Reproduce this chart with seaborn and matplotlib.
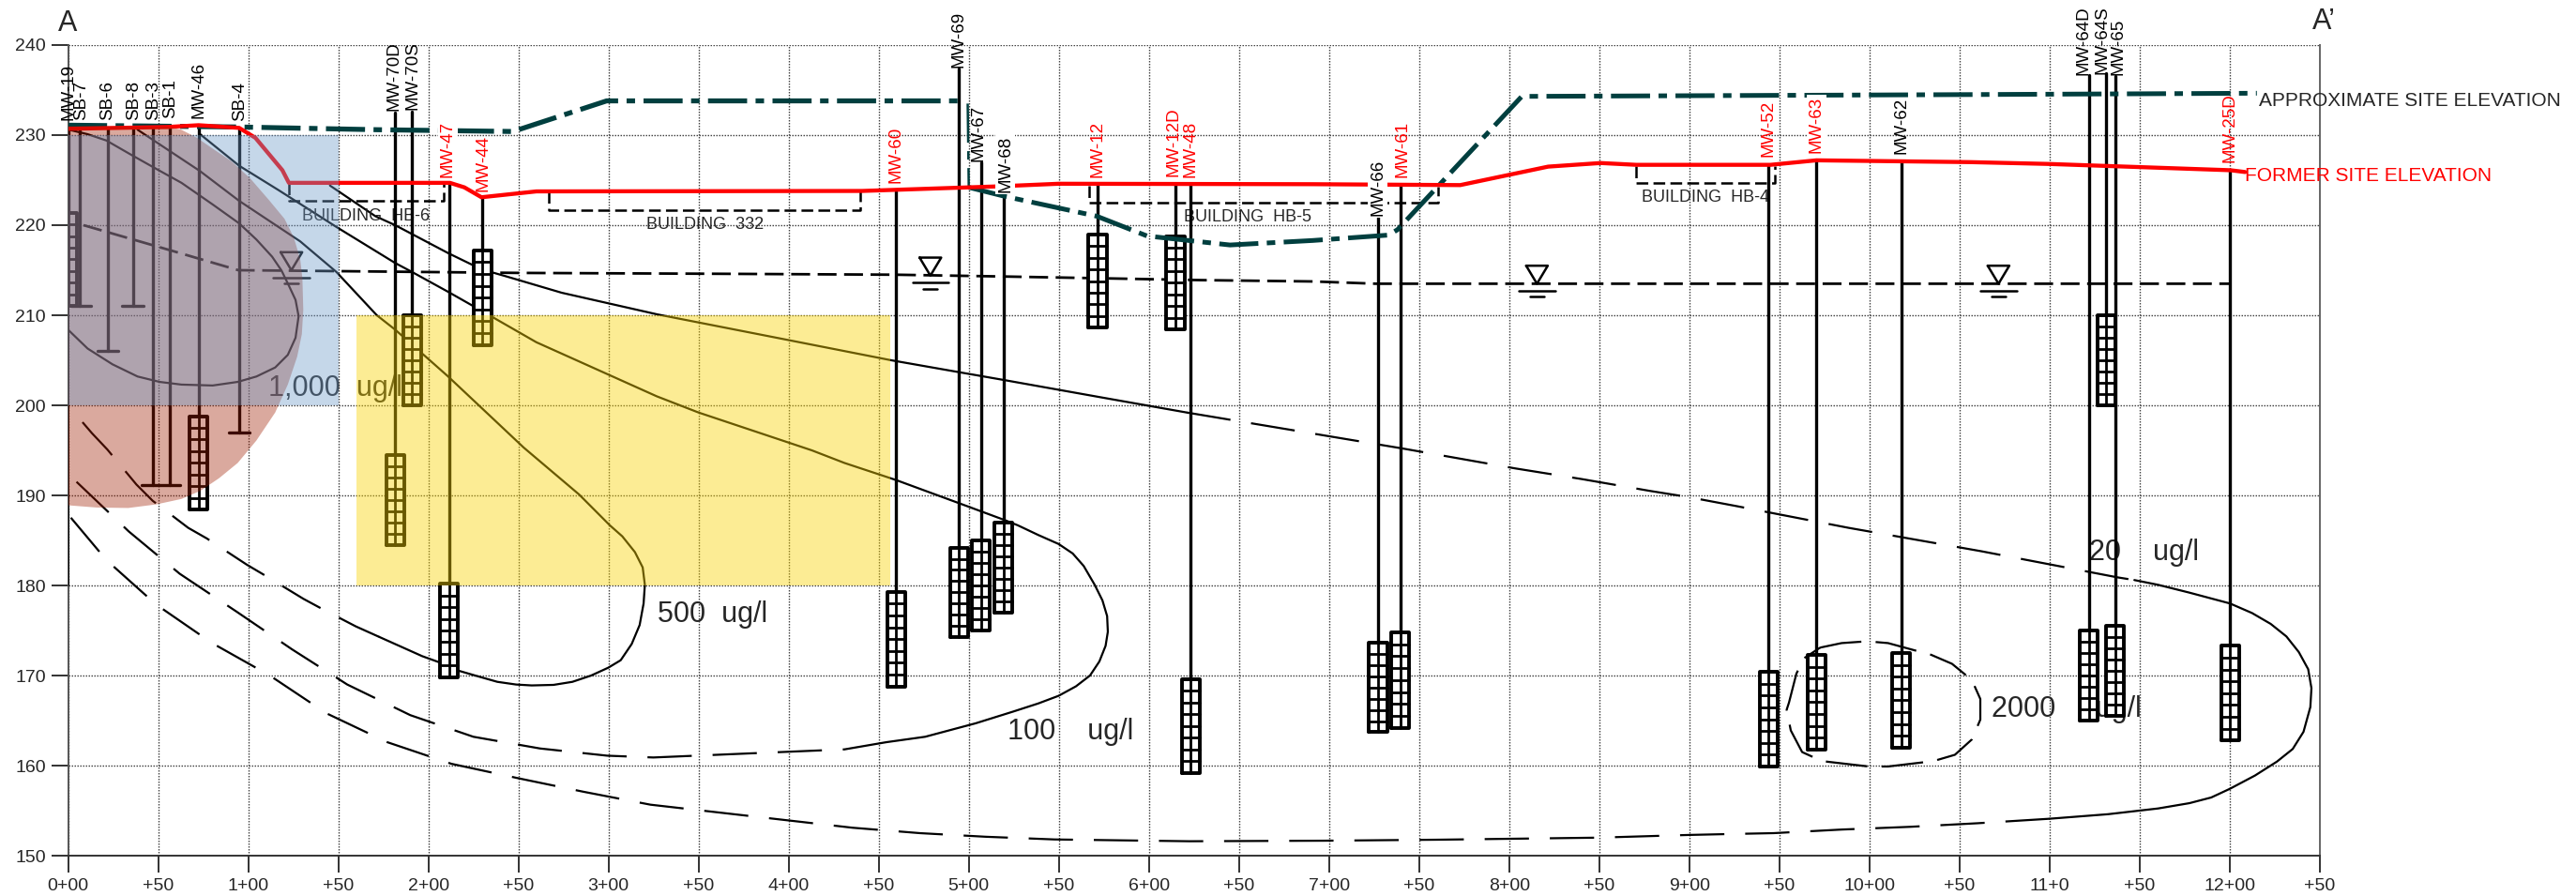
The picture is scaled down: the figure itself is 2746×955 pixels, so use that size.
import numpy as np
import pandas as pd
import matplotlib
matplotlib.use('Agg')
import matplotlib.pyplot as plt
import seaborn as sns

# stations in feet, elevations in feet
x_ticks = list(range(0, 1251, 50))
x_labels = ['0+00', '+50', '1+00', '+50', '2+00', '+50', '3+00', '+50', '4+00', '+50', '5+00', '+50', '6+00',
            '+50', '7+00', '+50', '8+00', '+50', '9+00', '+50', '10+00', '+50', '11+0', '+50', '12+00', '+50']
y_ticks = list(range(150, 241, 10))

# wells
well_names = ['MW-19', 'SB-7', 'SB-6', 'SB-8', 'SB-3', 'SB-1', 'MW-46', 'SB-4', 'MW-70D', 'MW-70S', 'MW-47', 'MW-44',
              'MW-60', 'MW-69', 'MW-67', 'MW-68', 'MW-12', 'MW-12D', 'MW-48', 'MW-66', 'MW-61', 'MW-52', 'MW-63',
              'MW-62', 'MW-64D', 'MW-64S', 'MW-65', 'MW-25D']
well_x = [0, 6.7, 22, 36, 47, 56.5, 72.5, 95, 181.6, 191, 211.6, 230, 459.8, 494.5, 506.8, 519.2, 571.5, 614.7,
          623.2, 727.2, 739.5, 944, 970.5, 1017.6, 1121.8, 1131.5, 1136.4, 1200.2]
well_top = [231, 231, 230.8, 230.8, 230.8, 230.9, 231, 230.8, 232.5, 232.6, 224.6, 223, 223.8, 237.4, 227, 223, 224.5,
            224.5, 224.5, 220.9, 224.5, 226.7, 227.2, 227, 236.7, 236.9, 236.6, 226]
well_bottom = [221.4, 211, 206, 211, 191.1, 191.1, 198.8, 197, 194.5, 210, 180.2, 217.2, 179.3, 184.2, 185, 187,
               219, 218.8, 169.6, 173.6, 174.8, 170.4, 172.3, 172.5, 175, 210, 175.5, 173.3]
screen_top = [221.4, None, None, None, None, None, 198.8, None, 194.5, 210, 180.2, 217.2, 179.3, 184.2, 185, 187,
              219, 218.8, 169.6, 173.6, 174.8, 170.4, 172.3, 172.5, 175, 210, 175.5, 173.3]
screen_bottom = [211, None, None, None, None, None, 188.4, None, 184.5, 200, 169.8, 206.7, 168.8, 174.3, 175, 177,
                 208.6, 208.4, 159.2, 163.7, 164.2, 159.9, 161.8, 162, 165, 200, 165.5, 162.8]
bar_left = [1.6, 16.2, 30.2, 41, 89.2]
bar_right = [12.8, 27.8, 41.8, 62, 100.8]
bar_y = [211, 206, 211, 191.1, 197]

label_x = [0.4, 7.4, 22, 36.5, 47.3, 56.9, 72.8, 95.4, 181, 191.6, 210.7, 230.5, 459.8, 494.2, 505.4, 520.3, 571.5,
           613.5, 623.3, 727, 740.7, 944, 970.5, 1018, 1119, 1129, 1138, 1200]
label_y = [231.7, 231.7, 231.7, 231.7, 231.7, 231.9, 231.9, 231.6, 232.7, 232.8, 225.3, 223.75, 224.7, 237.5, 227.1,
           223.65, 225.3, 225.45, 225.3, 221, 225.3, 227.6, 228, 227.9, 236.7, 236.8, 236.7, 227]
red_labels = ['MW-47', 'MW-44', 'MW-60', 'MW-12', 'MW-12D', 'MW-48', 'MW-61', 'MW-52', 'MW-63', 'MW-25D']
boxed_labels = ['MW-47', 'MW-68', 'MW-66', 'MW-63']

# site surfaces
former_x = [0, 55, 72.5, 95, 104, 119, 122.6, 212, 220, 229.5, 260, 440.8, 515, 550, 691, 772.8, 821.6, 850.7, 870.5,
            945, 970.5, 1056, 1099, 1200.4, 1208.5]
former_y = [230.7, 230.9, 231.1, 230.8, 229.7, 226.1, 224.7, 224.7, 224.2, 223.1, 223.75, 223.8, 224.3, 224.6, 224.55,
            224.45, 226.5, 226.9, 226.7, 226.7, 227.2, 227, 226.8, 226.1, 225.9]
approx_w_x = [0, 95, 171.4, 247, 299, 495.4]
approx_w_y = [231.1, 230.9, 230.6, 230.4, 233.8, 233.8]
approx_drop_x = [499.4, 500]
approx_drop_y = [233.5, 224.2]
approx_e_x = [500, 520, 571, 599, 645, 691, 733, 738, 807, 1056, 1215]
approx_e_y = [224.2, 223.2, 221, 218.8, 217.8, 218.3, 218.9, 219.5, 234.3, 234.5, 234.65]
water_x = [8.6, 57, 94.6, 148, 250, 364, 459.5, 519.8, 629, 691.4, 726, 1200.4]
water_y = [220, 217.2, 215, 214.9, 214.7, 214.6, 214.5, 214.3, 213.9, 213.75, 213.5, 213.5]
wt_x = [124, 478.7, 815.4, 1071.6]
wt_y = [215, 214.4, 213.5, 213.5]

# building outlines
hb6_x = [122.6, 122.6, 208.6, 208.6]
hb6_y = [224.7, 222.7, 222.7, 224.7]
b332_x = [267, 267, 440, 440]
b332_y = [223.75, 221.7, 221.7, 223.8]
hb5_x = [567, 567, 760.5, 760.5]
hb5_y = [224.4, 222.5, 222.5, 224.3]
hb4_x = [870.5, 870.5, 947.7, 947.7]
hb4_y = [226.6, 224.7, 224.7, 226.6]
building_names = ['BUILDING  HB-6', 'BUILDING  332', 'BUILDING  HB-5', 'BUILDING  HB-4']
building_x = [165.6, 353.6, 655, 908.8]
building_y = [221, 220, 220.9, 223.1]

# concentration contours
c1000_x = [0.4, 10.9, 21.3, 35.2, 49, 63, 80.3, 95, 104.6, 113.3, 118.5, 122.8, 126.3, 128, 126.3, 122, 115, 104.6,
           94.2, 80.3, 63, 50.8, 38.6, 24.7, 10.9, 0]
c1000_y = [230.6, 230.1, 229.4, 227.8, 226.25, 224.7, 222.3, 220.2, 218.4, 216.5, 214.97, 213.2, 211.7, 209.9, 207.5,
           205.6, 204.2, 203.2, 202.6, 202.2, 202.3, 202.6, 203.2, 204.55, 206.3, 208.4]
c500_x = [38.6, 73.3, 95, 128.9, 149, 171.4, 181.6, 211, 253, 283.7, 300.8, 307.7, 314.7, 319, 320.2, 319.5, 317.3,
          312.9, 306.8, 299.9, 290.4, 280, 269.5, 257.4, 248.7, 238.3, 226, 217.4, 207, 196.6, 172.6]
c500_y = [230.6, 226, 222.7, 218.2, 214.8, 210, 208.4, 203.2, 195.3, 190.1, 186.67, 185.45, 183.7, 182, 180.07, 178,
          175.6, 173.5, 171.7, 170.87, 170, 169.3, 168.96, 168.9, 169, 169.3, 170, 170.5, 171.4, 172.15, 174.3]
c500_dash_x = [172.6, 159.8, 141, 130.8, 108.6, 99.3, 77.2, 66.7, 47, 38, 21.8, 13.3, 0]
c500_dash_y = [174.3, 175.45, 177.4, 178.5, 181.2, 182.3, 185.2, 186.4, 189.4, 191.2, 195.1, 196.9, 200]
c100_x = [72.7, 95, 116.8, 149, 181.6, 191, 211, 229.5, 260, 326.8, 350, 412.9, 431, 459.7, 499.8, 520.7, 527.3, 538.6,
          549.9, 557.7, 563.8, 569.9, 574.2, 576.8, 577.2, 575.95, 572.5, 567.3, 559.5, 549.9, 538.6, 524.7, 503.9,
          475.8, 454.3]
c100_y = [230.2, 226.6, 223.9, 219.8, 215.8, 214.8, 212.6, 210.5, 207, 201, 199.2, 195, 193.6, 191.7, 188.75, 187.2,
          186.67, 185.6, 184.6, 183.55, 182.16, 180.07, 178.34, 176.6, 174.86, 173.3, 171.56, 170, 168.8, 167.75,
          166.9, 166, 164.7, 163.2, 162.6]
c100_dash_x = [454.3, 431, 324.9, 299.3, 262, 225, 190, 155, 124.4, 93.5, 62, 33.7, 1.6]
c100_dash_y = [162.6, 161.8, 160.9, 161.1, 161.9, 163.2, 165.6, 169, 172.9, 177.1, 181.3, 186, 192.1]
c20_x = [145.4, 170.6, 181.6, 211, 229.5, 243.5, 274, 327, 401, 457, 494, 519.8, 573, 621]
c20_y = [224.4, 221, 220, 216.9, 215.1, 214.3, 212.5, 210.1, 207.2, 205, 203.7, 202.8, 200.9, 199.2]
c20_dash_x = [621, 741, 803.2, 840.6, 878, 899.8, 926.4, 988.3, 1062, 1137.6, 1147]
c20_dash_y = [199.2, 195.2, 193, 191.8, 190.5, 189.8, 188.8, 186.4, 183.8, 180.9, 180.6]
c20_end_x = [1147, 1160.2, 1177.6, 1200.1, 1212.3, 1222.7, 1231.4, 1238.3, 1243.5, 1245.3, 1244.7, 1240.9, 1234.9,
             1226.2, 1214, 1200.1, 1189.7, 1177.6, 1160.2, 1132.3, 1100]
c20_end_y = [180.6, 180.07, 179.2, 178, 176.94, 175.73, 174.34, 172.6, 170.7, 168.6, 166.5, 163.75, 161.84, 160.45,
             158.9, 157.43, 156.46, 155.83, 155.24, 154.6, 154.1]
c20_low_x = [1100, 1060, 1022.3, 984.6, 946.8, 922, 899.8, 849.5, 810.7, 760, 697, 622.3, 585, 547.6, 509.3, 472.9,
             435.5, 323.3, 286, 249.8, 212.8, 177.2, 143.5, 112, 80, 48.8, 21.4, 0]
c20_low_y = [154.1, 153.6, 153.2, 152.9, 152.5, 152.4, 152.3, 152, 151.9, 151.77, 151.66, 151.6, 151.7, 151.8, 152.1,
             152.5, 153.1, 155.66, 157.1, 158.6, 160.2, 162.6, 165.8, 170, 173.6, 177.9, 182.8, 187.9]
c2000_x = [972.6, 984.5, 998.7, 1010.3, 1034.2, 1045.8, 1056.8, 1061.5, 1061.5, 1056.8, 1047.4, 1035.5, 1010.3, 999.6,
           973.6, 962.6, 956.3, 954, 955.3, 959.4, 963.5, 972.6]
c2000_y = [173.1, 173.6, 173.8, 173.6, 172.3, 171.3, 169.5, 167.4, 165.1, 162.9, 161.2, 160.5, 159.9, 159.9, 160.5,
           161.5, 163.9, 166.2, 167, 170.2, 171.9, 173.1]
contour_names = ['1,000  ug/l', '500  ug/l', '100    ug/l', '20    ug/l', '2000     ug/l']
contour_label_x = [111, 327.4, 521.6, 1122, 1068]
contour_label_y = [201.9, 176.8, 163.75, 183.6, 166.2]

# shaded zones
blob_x = [0, 56, 62.9, 71.6, 80.3, 90.7, 101.1, 111.5, 120.2, 125.4, 128.9, 130.1, 130.6, 129.8, 127.2, 122, 115, 104.6,
          94.2, 83.8, 73.4, 62.9, 49, 33.4, 16, 0]
blob_y = [231, 230.94, 230.6, 229.7, 228.5, 227.1, 225.2, 222.8, 220.7, 218.6, 216.2, 214.1, 210.6, 207.9, 205.4, 202.3,
          199.2, 196.1, 193.6, 191.9, 190.5, 189.6, 189, 188.6, 188.65, 188.9]
blue_x = [0, 150]
blue_y = [200, 230]
yellow_x = [160, 456.6]
yellow_y = [180, 210]

sns.set_style('white')
plt.rcParams['font.family'] = ['Liberation Sans', 'DejaVu Sans']
plt.rcParams['lines.scale_dashes'] = False
plt.rcParams['lines.dash_capstyle'] = 'butt'

fig = plt.figure(figsize=(27.46, 9.55), dpi=100)
ax = fig.add_axes([72.5 / 2746, 1 - 912 / 955, 2400.5 / 2746, 864 / 955])

BLACK = '#000000'
RED = '#ff0000'
GREEN = '#003f3f'
long_dash = (0, (34, 16))
med_dash = (0, (14.5, 5.8))
build_dash = (0, (9, 4))
site_dash = (0, (30, 6.5, 6.5, 6.5))


def line(xs, ys, color=BLACK, lw=1.6, ls='-', z=3):
    sns.lineplot(x=xs, y=ys, sort=False, estimator=None, color=color, linewidth=lw, linestyle=ls,
                 zorder=z, ax=ax, legend=False)


# contours
line(c1000_x, c1000_y)
line(c500_x, c500_y)
line(c500_dash_x, c500_dash_y, ls=long_dash)
line(c100_x, c100_y)
line(c100_dash_x, c100_dash_y, ls=long_dash)
line(c20_x, c20_y)
line(c20_dash_x, c20_dash_y, ls=long_dash)
line(c20_end_x, c20_end_y)
line(c20_low_x, c20_low_y, ls=long_dash)
line(c2000_x, c2000_y, ls=(0, (32, 11)))

# water table
line(water_x, water_y, lw=2, ls=med_dash)
for wx, wy in zip(wt_x, wt_y):
    line([wx - 6, wx + 6, wx, wx - 6], [wy + 2, wy + 2, wy, wy + 2], lw=1.8)
    line([wx - 10, wx + 10], [wy - 0.8, wy - 0.8], lw=1.8)
    line([wx - 4, wx + 4], [wy - 1.45, wy - 1.45], lw=1.8)

# buildings
for bx, by in [(hb6_x, hb6_y), (b332_x, b332_y), (hb5_x, hb5_y), (hb4_x, hb4_y)]:
    line(bx, by, lw=1.8, ls=build_dash)
for name, tx, ty in zip(building_names, building_x, building_y):
    ax.text(tx, ty, name, fontsize=13, ha='center', va='center', zorder=3)

# contour labels, screens are drawn on top of them
for name, tx, ty in zip(contour_names, contour_label_x, contour_label_y):
    ax.text(tx, ty, name, fontsize=22, ha='left', va='center', zorder=3)

# wells
well_df = pd.DataFrame({'name': well_names * 2, 'x': well_x * 2, 'y': well_top + well_bottom})
sns.lineplot(data=well_df, x='x', y='y', units='name', estimator=None, sort=False, color=BLACK,
             linewidth=2.4, zorder=4, ax=ax, legend=False)
line([0, 0], [221, 180], lw=1.4, z=4)
for left, right, by in zip(bar_left, bar_right, bar_y):
    line([left, right], [by, by], lw=2.4, z=4)

# screens
for sx, hi, lo in zip(well_x, screen_top, screen_bottom):
    if hi is None:
        continue
    ax.fill_between([sx - 5, sx + 5], lo, hi, color='white', lw=0, zorder=4.2)
    for ry in np.linspace(lo, hi, 9)[1:-1]:
        line([sx - 5, sx + 5], [ry, ry], lw=2, z=4.3)
    line([sx, sx], [lo, hi], lw=2, z=4.3)
    line([sx - 5, sx + 5, sx + 5, sx - 5, sx - 5], [lo, lo, hi, hi, lo], lw=2.8, z=4.4)

# surfaces
line(approx_w_x, approx_w_y, color=GREEN, lw=3.8, ls=site_dash, z=5)
line(approx_drop_x, approx_drop_y, color=GREEN, lw=1.8, ls=site_dash, z=5)
line(approx_e_x, approx_e_y, color=GREEN, lw=3.6, ls=site_dash, z=5)
line(former_x, former_y, color=RED, lw=3.1, z=5.5)

# well labels
for name, tx, ty in zip(well_names, label_x, label_y):
    box = dict(facecolor='white', edgecolor='none', pad=1.5) if name in boxed_labels else None
    ax.text(tx, ty, name, rotation=90, fontsize=13.5, ha='center', va='bottom', clip_on=False, zorder=6,
            color=RED if name in red_labels else BLACK, bbox=box)

# shaded zones go over the lines
ax.fill(blob_x, blob_y, color='#a01e00', alpha=0.38, lw=0, zorder=8)
ax.fill_between(blue_x, blue_y[0], blue_y[1], color='#709bc8', alpha=0.4, lw=0, zorder=9)
ax.fill_between(yellow_x, yellow_y[0], yellow_y[1], color='#fad400', alpha=0.42, lw=0, zorder=9)

ax.text(0, 242.4, 'A', fontsize=22, ha='center', va='center')
ax.text(1246, 242.6, 'A’', fontsize=22, ha='left', va='center')
ax.text(1216, 233.8, 'APPROXIMATE SITE ELEVATION', fontsize=15, ha='left', va='center', clip_on=False, zorder=7)
ax.text(1208.5, 225.5, 'FORMER SITE ELEVATION', fontsize=15, color=RED, ha='left', va='center', clip_on=False, zorder=7)

ax.set_xlim(0, 1250)
ax.set_ylim(150, 240)
ax.set_xticks(x_ticks)
ax.set_xticklabels(x_labels, fontsize=14)
ax.set_yticks(y_ticks)
ax.set_yticklabels([str(v) for v in y_ticks], fontsize=14)
ax.set(xlabel='', ylabel='')
ax.tick_params(axis='both', length=13, width=1.3, color='#222222', pad=4, left=True, bottom=True)
ax.grid(True, color='#444444', linewidth=1.0, linestyle=(0, (1.08, 1.08)))
ax.set_axisbelow(True)
ax.spines['top'].set_visible(False)
for side, col in [('left', '#555555'), ('right', '#666666'), ('bottom', '#333333')]:
    ax.spines[side].set_color(col)
    ax.spines[side].set_linewidth(1.4)

plt.savefig('out.png', dpi=100)
